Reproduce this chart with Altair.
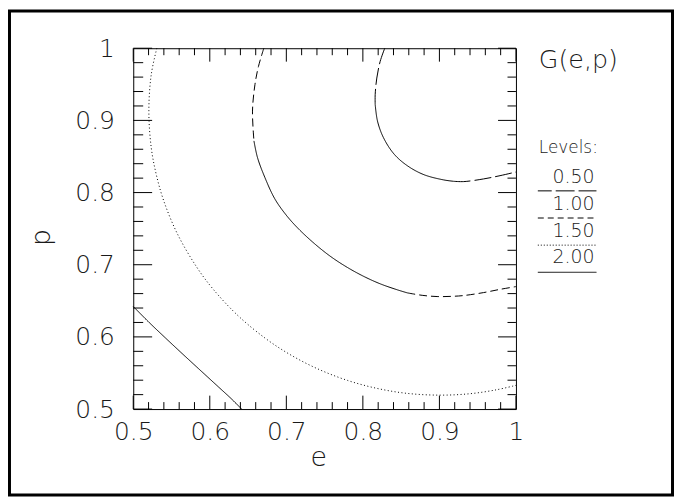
import altair as alt
import pandas as pd

# ---- data ----
level_labels = ["0.50", "1.00", "1.50", "2.00"]

# level 0.50 (innermost, top right)
g050_a_e = [0.8286, 0.8226, 0.8182, 0.8161, 0.8161]
g050_a_p = [1.0, 0.9817, 0.9587, 0.9359, 0.9221]
g050_b_e = [0.8161, 0.8191, 0.8269, 0.8408, 0.8581, 0.8797, 0.9057, 0.9187]
g050_b_p = [0.9221, 0.8991, 0.8761, 0.8533, 0.8372, 0.8248, 0.8175, 0.8156]
g050_c_e = [0.9187, 0.9317, 0.9577, 0.9792, 1.0]
g050_c_p = [0.8156, 0.8152, 0.8189, 0.8234, 0.8285]

# level 1.00
g100_a_e = [0.6706, 0.6636, 0.6590, 0.6558, 0.6577]
g100_a_p = [1.0, 0.9748, 0.9496, 0.9129, 0.8716]
g100_b_e = [0.6577, 0.6623, 0.6719, 0.6849, 0.6996, 0.7152, 0.7369, 0.7584,
            0.7800, 0.8018, 0.8230, 0.8451, 0.8581]
g100_b_p = [0.8716, 0.8486, 0.8211, 0.7914, 0.7691, 0.7505, 0.7291, 0.7110,
            0.6961, 0.6835, 0.6734, 0.6652, 0.6610]
g100_c_e = [0.8581, 0.8775, 0.8970, 0.9165, 0.9317, 0.9577, 0.9788, 1.0]
g100_c_p = [0.6610, 0.6576, 0.6559, 0.6562, 0.6573, 0.6614, 0.6658, 0.6697]

# level 1.50
g150_e = [0.5308, 0.5235, 0.5204, 0.5235, 0.5299, 0.5397, 0.5575, 0.5826,
          0.6052, 0.6379, 0.6748, 0.7065, 0.7412, 0.7802, 0.8191, 0.8581,
          0.9009, 0.9403, 0.9750, 1.0]
g150_p = [1.0, 0.9634, 0.9129, 0.8624, 0.8258, 0.7890, 0.7432, 0.6972,
          0.6651, 0.6284, 0.5963, 0.5745, 0.5556, 0.5396, 0.5285, 0.5217,
          0.5193, 0.5213, 0.5268, 0.5329]

# level 2.00
g200_e = [0.5, 0.5204, 0.5421, 0.5636, 0.5853, 0.6113, 0.6286, 0.6416]
g200_p = [0.6422, 0.6204, 0.5985, 0.5772, 0.5560, 0.5307, 0.5138, 0.5]

segments = [
    ("0.50", "long", g050_a_e, g050_a_p),
    ("0.50", "solid", g050_b_e, g050_b_p),
    ("0.50", "long", g050_c_e, g050_c_p),
    ("1.00", "short", g100_a_e, g100_a_p),
    ("1.00", "solid", g100_b_e, g100_b_p),
    ("1.00", "short", g100_c_e, g100_c_p),
    ("1.50", "dot", g150_e, g150_p),
    ("2.00", "solid", g200_e, g200_p),
]

x_major = [0.5, 0.6, 0.7, 0.8, 0.9, 1.0]
x_minor = [0.52, 0.54, 0.56, 0.58, 0.62, 0.64, 0.66, 0.68, 0.72, 0.74, 0.76, 0.78,
           0.82, 0.84, 0.86, 0.88, 0.92, 0.94, 0.96, 0.98]
y_major = x_major
y_minor = x_minor

rows = []
for k, (lvl, style, es, ps) in enumerate(segments):
    for i, (e, p) in enumerate(zip(es, ps)):
        rows.append({"e": e, "p": p, "seg": k, "style": style, "i": i, "level": lvl})
df = pd.DataFrame(rows)

W, H = 385, 363
FONT = "DejaVu Sans"
FW = 200
TXT = "#1a1a1a"

xs = alt.Scale(domain=[0.5, 1.0], nice=False, zero=False)
ys = alt.Scale(domain=[0.5, 1.0], nice=False, zero=False)

x_axis = alt.Axis(values=x_major, format="~g", ticks=False, domain=False, grid=False,
                  labelFont=FONT, labelFontSize=25, labelFontWeight=FW, labelPadding=11,
                  labelFlush=False, labelColor=TXT, labelOverlap=False,
                  title="e", titleFont=FONT, titleFontSize=27, titleFontWeight=FW,
                  titleColor=TXT, titleX=186, titleY=57, titleBaseline="alphabetic",
                  titleAlign="center")
y_axis = alt.Axis(values=y_major, format="~g", ticks=False, domain=False, grid=False,
                  labelFont=FONT, labelFontSize=25, labelFontWeight=FW, labelPadding=19,
                  labelFlush=False, labelColor=TXT, labelOverlap=False,
                  title="p", titleFont=FONT, titleFontSize=27, titleFontWeight=FW,
                  titleColor=TXT, titleX=-84, titleY=190, titleBaseline="alphabetic",
                  titleAlign="center", titleAngle=270)

dash_domain = ["long", "short", "dot", "solid"]
dash_range = [[17, 4], [8, 4], [1, 2.5], [1, 0]]

lines = alt.Chart(df).mark_line(color="black", strokeWidth=1, interpolate="catmull-rom").encode(
    x=alt.X("e:Q", scale=xs, axis=x_axis, title="e"),
    y=alt.Y("p:Q", scale=ys, axis=y_axis, title="p"),
    detail="seg:N",
    order="i:Q",
    strokeDash=alt.StrokeDash("style:N", scale=alt.Scale(domain=dash_domain, range=dash_range), legend=None),
)

layers = [lines]

def xticks(vals, y0, y1):
    return alt.Chart(pd.DataFrame({"e": vals})).mark_rule(color="black", strokeWidth=1).encode(
        x=alt.X("e:Q", scale=xs, axis=x_axis, title="e"), y=alt.value(y0), y2=alt.value(y1))

def yticks(vals, x0, x1):
    return alt.Chart(pd.DataFrame({"p": vals})).mark_rule(color="black", strokeWidth=1).encode(
        y=alt.Y("p:Q", scale=ys, axis=y_axis, title="p"), x=alt.value(x0), x2=alt.value(x1))

layers += [
    xticks(x_major, H, H - 13.5), xticks(x_minor, H, H - 7),
    xticks(x_major, 0, 13.5), xticks(x_minor, 0, 7),
    yticks(y_major, 0, 19), yticks(y_minor, 0, 10),
    yticks(y_major, W, W - 18), yticks(y_minor, W, W - 8.5),
]

one = pd.DataFrame({"k": [0]})
layers.append(alt.Chart(one).mark_text(text="G(e,p)", font=FONT, fontSize=25.5, fontWeight=FW,
                                       align="left", baseline="alphabetic", color=TXT).encode(
    x=alt.value(408), y=alt.value(19.5)))
layers.append(alt.Chart(one).mark_text(text="Levels:", font=FONT, fontSize=17, fontWeight=FW,
                                       align="left", baseline="alphabetic", color=TXT).encode(
    x=alt.value(408), y=alt.value(105.5)))

legend_dash = [[19, 4], [6, 4], [1, 2], [1, 0]]
legend_dash_offset = [5, 0, 0, 0]
for j, lab in enumerate(level_labels):
    ybase = 135.5 + 27 * j
    layers.append(alt.Chart(pd.DataFrame({"lab": [lab]})).mark_text(
        font=FONT, fontSize=19, fontWeight=FW, align="center", baseline="alphabetic",
        color=TXT).encode(text="lab:N", x=alt.value(443), y=alt.value(ybase)))
    layers.append(alt.Chart(pd.DataFrame({"lab": [lab]})).mark_rule(
        color="black", strokeWidth=1, strokeDash=legend_dash[j],
        strokeDashOffset=legend_dash_offset[j]).encode(
        x=alt.value(407), x2=alt.value(466), y=alt.value(143.5 + 27.3 * j)))

# outer frame
layers.append(alt.Chart(one).mark_rect(filled=False, stroke="black", strokeWidth=3).encode(
    x=alt.value(-124.5), x2=alt.value(542.5), y=alt.value(-37.5), y2=alt.value(449.5)))

chart = alt.layer(*layers).properties(
    width=W, height=H,
    padding={"left": 126, "top": 39, "right": 159, "bottom": 88},
    autosize=alt.AutoSizeParams(type="none"),
).configure_view(stroke="black", strokeWidth=1)

chart.save("out.html", embed_options={"renderer": "svg", "actions": False})
